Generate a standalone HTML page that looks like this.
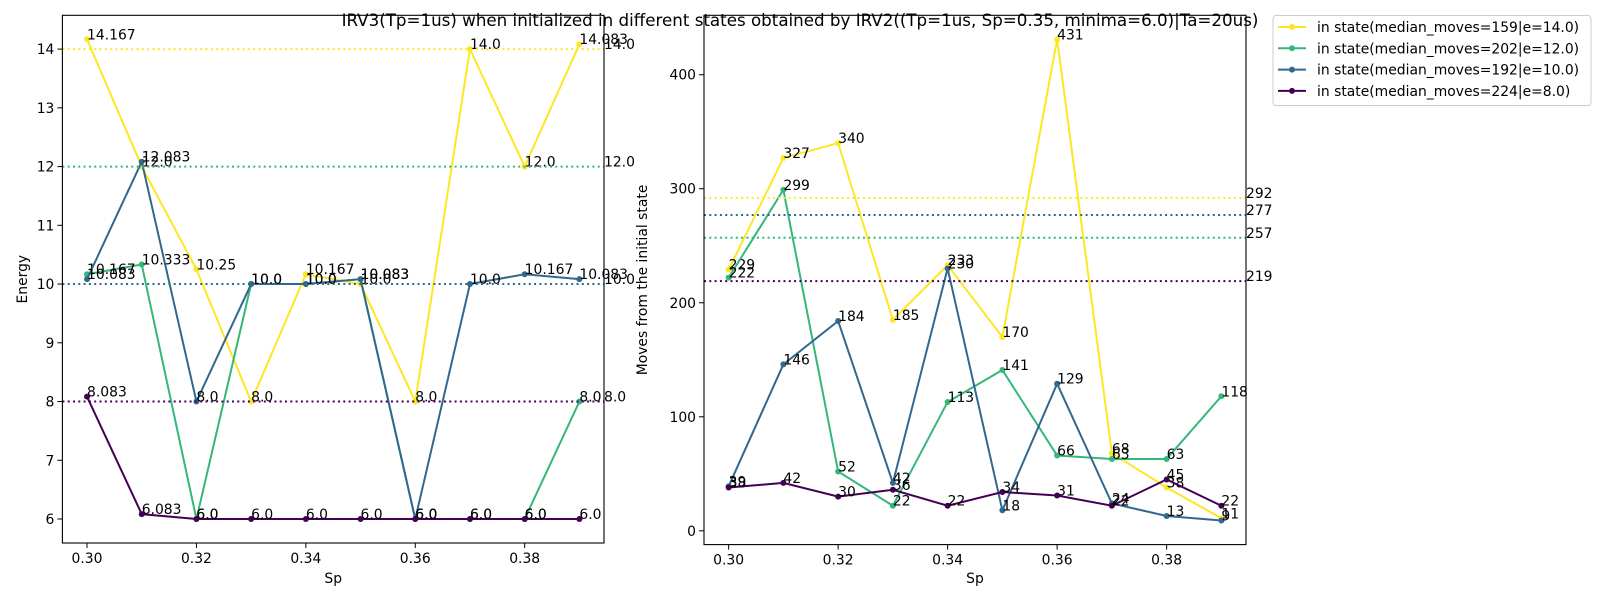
<!DOCTYPE html>
<html><head><meta charset="utf-8"><style>
body{margin:0;background:#fff;}
svg{display:block;font-family:"DejaVu Sans","Liberation Sans",sans-serif;}
</style></head><body>
<svg id="fig" width="1600" height="600" xmlns="http://www.w3.org/2000/svg">
<rect width="1600" height="600" fill="#fff"/>
<text x="800" y="26" font-size="16.7" text-anchor="middle">IRV3(Tp=1us) when initialized in different states obtained by IRV2((Tp=1us, Sp=0.35, minima=6.0)|Ta=20us)</text>
<g id="left"></g>
<g id="right"></g>
<g id="legend"></g>
</svg>
<script>
const categories=[0.30,0.31,0.32,0.33,0.34,0.35,0.36,0.37,0.38,0.39];
const seriesNames=["in state(median_moves=159|e=14.0)","in state(median_moves=202|e=12.0)","in state(median_moves=192|e=10.0)","in state(median_moves=224|e=8.0)"];
const colors=["#fde725","#35b779","#31688e","#440154"];
const energyY=[14.167,12.0,10.25,8.0,10.167,10.0,8.0,14.0,12.0,14.083];
const energyG=[10.167,10.333,6.0,10.0,10.0,10.083,6.0,6.0,6.0,8.0];
const energyB=[10.083,12.083,8.0,10.0,10.0,10.083,6.0,10.0,10.167,10.083];
const energyP=[8.083,6.083,6.0,6.0,6.0,6.0,6.0,6.0,6.0,6.0];
const energyRef=[14.0,12.0,10.0,8.0];
const movesY=[229,327,340,185,233,170,431,68,38,11];
const movesG=[222,299,52,22,113,141,66,63,63,118];
const movesB=[39,146,184,42,230,18,129,24,13,9];
const movesP=[38,42,30,36,22,34,31,22,45,22];
const movesRef=[292,257,277,219];
const xTicks=[0.30,0.32,0.34,0.36,0.38];
const energyTicks=[6,7,8,9,10,11,12,13,14];
const movesTicks=[0,100,200,300,400];

const NS="http://www.w3.org/2000/svg";
function mk(p,tag,attrs,txt){const e=document.createElementNS(NS,tag);for(const k in attrs)e.setAttribute(k,attrs[k]);if(txt!==undefined)e.textContent=txt;p.appendChild(e);return e;}

function panel(g,box,series,refs,yTicks,yLabel,fmt,refFmt,ylabelX){
  const all=[].concat(...series);
  const dmin=Math.min(...all),dmax=Math.max(...all),m=(dmax-dmin)*0.05;
  const y0=dmin-m,y1=dmax+m;
  const x0=0.2955,x1=0.3945;
  const X=v=>box.l+(v-x0)/(x1-x0)*(box.r-box.l);
  const Y=v=>box.b-(v-y0)/(y1-y0)*(box.b-box.t);
  series.forEach((s,i)=>{
    const pts=s.map((v,j)=>X(categories[j])+","+Y(v)).join(" ");
    const pl=mk(g,"polyline",{points:pts,fill:"none",stroke:colors[i],"stroke-width":2});
    
    
    s.forEach((v,j)=>{
      const c=mk(g,"circle",{cx:X(categories[j]),cy:Y(v),r:3,fill:colors[i]});
      
      
      const t=mk(g,"text",{x:X(categories[j]),y:Y(v),"font-size":13.9},fmt(v));
      
      
    });
  });
  refs.forEach((v,i)=>{
    const ln=mk(g,"line",{x1:box.l,x2:box.r,y1:Y(v),y2:Y(v),stroke:colors[i],"stroke-width":2,"stroke-dasharray":"2 3.3"});
    
    
    const t=mk(g,"text",{x:box.r,y:Y(v),"font-size":13.9},refFmt(v));
    
    
  });
  const fr=mk(g,"rect",{x:box.l,y:box.t,width:box.r-box.l,height:box.b-box.t,fill:"none",stroke:"#000","stroke-width":1.1});
  
  
  xTicks.forEach(v=>{
    mk(g,"line",{x1:X(v),x2:X(v),y1:box.b,y2:box.b+5,stroke:"#000"});
    const t=mk(g,"text",{x:X(v),y:box.b+20,"font-size":13.9,"text-anchor":"middle"},v.toFixed(2));
    
    
  });
  yTicks.forEach(v=>{
    mk(g,"line",{x1:box.l-5,x2:box.l,y1:Y(v),y2:Y(v),stroke:"#000"});
    const t=mk(g,"text",{x:box.l-8,y:Y(v)+5,"font-size":13.9,"text-anchor":"end"},String(v));
    
    
  });
  const xl=mk(g,"text",{x:(box.l+box.r)/2,y:583,"font-size":13.9,"text-anchor":"middle"},"Sp");
  
  
  const cy=(box.t+box.b)/2;
  const yl=mk(g,"text",{x:ylabelX,y:cy,"font-size":13.9,"text-anchor":"middle",transform:`rotate(-90 ${ylabelX} ${cy})`},yLabel);
  
  
}
panel(document.getElementById("left"),{l:62.4,r:604,t:15.3,b:543},[energyY,energyG,energyB,energyP],energyRef,energyTicks,"Energy",v=>{const s=String(v);return s.includes(".")?s:v.toFixed(1);},v=>v.toFixed(1),27);
panel(document.getElementById("right"),{l:704,r:1246,t:15.3,b:544.6},[movesY,movesG,movesB,movesP],movesRef,movesTicks,"Moves from the initial state",v=>String(v),v=>String(v),647);
// reorder ref colors for moves panel: yellow, green, blue, purple as given
const lg=document.getElementById("legend");
const box=mk(lg,"rect",{x:1273,y:15.5,width:318,height:90,rx:3,fill:"#fff",stroke:"#ccc"});


seriesNames.forEach((n,i)=>{
  const y=27+i*21.3;
  const e=mk(lg,"g",{});
  
  
  mk(e,"line",{x1:1278,x2:1306,y1:y,y2:y,stroke:colors[i],"stroke-width":2});
  mk(e,"circle",{cx:1292,cy:y,r:3,fill:colors[i]});
  mk(e,"text",{x:1317,y:y+5,"font-size":13.9},n);
});
</script>
</body></html>
